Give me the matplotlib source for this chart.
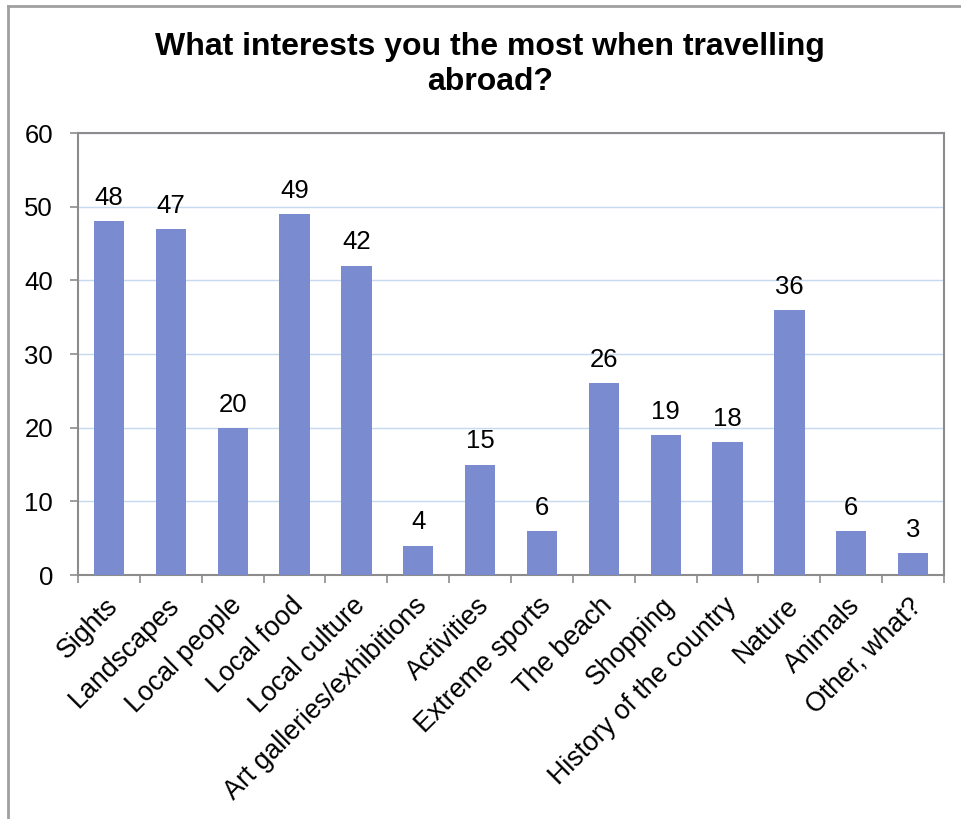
import matplotlib
matplotlib.use("Agg")
import matplotlib.pyplot as plt
from matplotlib.lines import Line2D
from matplotlib.transforms import ScaledTranslation

categories = [
    "Sights", "Landscapes", "Local people", "Local food", "Local culture",
    "Art galleries/exhibitions", "Activities", "Extreme sports", "The beach",
    "Shopping", "History of the country", "Nature", "Animals", "Other, what?",
]
counts = [48, 47, 20, 49, 42, 4, 15, 6, 26, 19, 18, 36, 6, 3]
y_ticks = [0, 10, 20, 30, 40, 50, 60]

BAR = "#7b8bcf"
GRID = "#c6d9f1"
AXIS = "#8c8c8c"

plt.rcParams["font.family"] = ["Liberation Sans", "DejaVu Sans"]

fig = plt.figure(figsize=(9.62, 8.19), dpi=100)
ax = fig.add_axes([0.0811, 0.2979, 0.9002, 0.5397])

x = list(range(len(categories)))
ax.bar(x, counts, width=0.49, color=BAR, zorder=3)
for xi, v in zip(x, counts):
    ax.annotate(str(v), (xi, v), xytext=(0, 8), textcoords="offset points",
                ha="center", va="bottom", fontsize=18.5, zorder=4)

ax.set_xlim(-0.5, len(categories) - 0.5)
ax.set_ylim(0, 60)
ax.set_yticks(y_ticks)
ax.set_yticklabels([str(t) for t in y_ticks], fontsize=18.5)
ax.yaxis.grid(True, color=GRID, lw=1.0, zorder=0)
ax.set_axisbelow(True)

# category ticks sit between bars
ax.set_xticks([i + 0.5 for i in range(-1, len(categories))])
ax.set_xticklabels([])
ax.tick_params(axis="x", length=6, color=AXIS, width=1.2)
ax.tick_params(axis="y", length=6, color=AXIS, width=1.2, pad=12)

# rotated category names under each bar
shift = ScaledTranslation(0.05, -0.27, fig.dpi_scale_trans)
for xi, name in zip(x, categories):
    ax.text(xi, 0, name, transform=ax.get_xaxis_transform() + shift,
            rotation=45, rotation_mode="anchor", ha="right", va="center",
            fontsize=19.3)

for s in ax.spines.values():
    s.set_color(AXIS)
    s.set_linewidth(1.5)

fig.text(0.509, 0.921, "What interests you the most when travelling\nabroad?",
         ha="center", va="center", fontsize=23, fontweight="bold",
         linespacing=1.2)

# chart frame (left and top edges)
fig.add_artist(Line2D([8 / 962, 8 / 962], [0, 1 - 6 / 819], color="#a0a0a0",
                      lw=2, transform=fig.transFigure))
fig.add_artist(Line2D([8 / 962, 1], [1 - 6 / 819, 1 - 6 / 819],
                      color="#a0a0a0", lw=2, transform=fig.transFigure))

fig.savefig("out.png", dpi=100)
